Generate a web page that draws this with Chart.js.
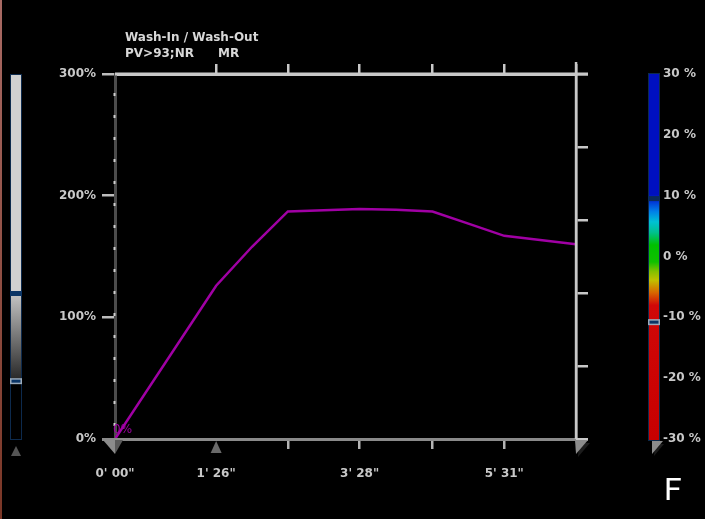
<!DOCTYPE html>
<html>
<head>
<meta charset="utf-8">
<script src="https://cdn.jsdelivr.net/npm/chart.js@4.4.1/dist/chart.umd.min.js"></script>
<style>
html, body { margin: 0; padding: 0; background: #000; }
canvas { display: block; }
</style>
</head>
<body>
<canvas id="washChart" width="705" height="519"></canvas>
<script>
// Wash-in / wash-out curve: time in seconds, enhancement in %
const timeSec = [0, 86, 116.5, 147, 177.5, 208, 239, 270, 300.5, 331, 361.5, 392];
const washValues = [0, 126, 158, 187, 188, 189, 188.5, 187, 177, 167, 163.5, 160];

const timeTicks = [0, 86, 147, 208, 270, 331, 392];
const timeLabels = ["0' 00\"", "1' 26\"", '', "3' 28\"", '', "5' 31\"", ''];
const markerTicks = [0, 86, 392]; // shown as triangles, not tick lines

const percentTicks = [0, 100, 200, 300];
const rightTicks = [0, 60, 120, 180, 240, 300];
const colorbarTicks = [-30, -20, -10, 0, 10, 20, 30];

const headerTitle = 'Wash-In / Wash-Out';
const headerSub = 'PV>93;NR';
const headerMode = 'MR';
const cornerLetter = 'F';

const LIGHT = '#c8c8c8';
const GRAY = '#8a8a8a';
const PURPLE = '#a000a4';

Chart.defaults.font.family = 'DejaVu Sans';

function tri(ctx, pts, fill) {
    ctx.beginPath();
    ctx.moveTo(pts[0][0], pts[0][1]);
    ctx.lineTo(pts[1][0], pts[1][1]);
    ctx.lineTo(pts[2][0], pts[2][1]);
    ctx.closePath();
    ctx.fillStyle = fill;
    ctx.fill();
}

const decor = {
    id: 'decor',
    afterDraw(chart) {
        const ctx = chart.ctx;
        const area = chart.chartArea;
        const x = chart.scales.x;
        const y = chart.scales.y;
        const cb = chart.scales.cb;
        ctx.save();

        // window edge
        const edge = ctx.createLinearGradient(0, 0, 0, 519);
        edge.addColorStop(0, '#a86a64');
        edge.addColorStop(1, '#7a3626');
        ctx.fillStyle = edge;
        ctx.fillRect(0, 0, 2, 519);

        // header
        ctx.fillStyle = '#d8d8d8';
        ctx.font = 'bold 12px "DejaVu Sans"';
        ctx.textBaseline = 'alphabetic';
        ctx.fillText(headerTitle, 125, 41);
        ctx.fillText(headerSub, 125, 57);
        ctx.fillText(headerMode, 218, 57);

        // axis line extensions
        ctx.fillStyle = GRAY;
        ctx.fillRect(102, area.bottom - 1, area.right + 12 - 102, 3);
        ctx.fillStyle = LIGHT;
        ctx.fillRect(area.left, area.top - 1.5, area.right + 12 - area.left, 3);
        ctx.fillRect(area.right - 1.2, area.top - 12, 2.5, area.bottom - area.top + 12);
        ctx.fillRect(area.right, area.bottom - 1, 12, 2);

        // dotted highlights on the left axis
        ctx.fillStyle = '#d0d0d0';
        for (let yy = area.top + 19; yy < area.bottom - 4; yy += 22) {
            ctx.fillRect(area.left - 1.5, yy, 2, 3);
        }

        // triangles under the time axis
        const x0 = x.getPixelForValue(markerTicks[0]);
        tri(ctx, [[x0 - 12, area.bottom + 1], [x0 + 1, area.bottom + 1], [x0, area.bottom + 15]], '#8c8c8c');
        tri(ctx, [[x0, area.bottom + 1], [x0 + 8, area.bottom + 1], [x0, area.bottom + 15]], '#5a5a5a');
        const x1 = x.getPixelForValue(markerTicks[1]);
        tri(ctx, [[x1 - 5.5, area.bottom + 14], [x1 + 5.5, area.bottom + 14], [x1, area.bottom + 2]], '#6a6a6a');
        const xe = x.getPixelForValue(markerTicks[2]);
        tri(ctx, [[xe + 3, area.bottom + 4], [xe + 14, area.bottom + 4], [xe + 2, area.bottom + 18]], '#1c1c1c');
        tri(ctx, [[xe - 1, area.bottom + 1], [xe + 12, area.bottom + 1], [xe, area.bottom + 15]], '#8c8c8c');

        // left grey window bar
        const bx = 10, bw = 12;
        const bTop = area.top, bBot = area.bottom + 1;
        const yHi = y.getPixelForValue(120), yLo = y.getPixelForValue(50);
        ctx.fillStyle = '#d0d0d0';
        ctx.fillRect(bx, bTop, bw, yHi - bTop);
        const g = ctx.createLinearGradient(0, yHi, 0, yLo);
        g.addColorStop(0, '#c6c6c6');
        g.addColorStop(1, '#2a2a2a');
        ctx.fillStyle = g;
        ctx.fillRect(bx, yHi, bw, yLo - yHi);
        ctx.fillStyle = '#000';
        ctx.fillRect(bx, yLo, bw, bBot - yLo);
        ctx.strokeStyle = '#0d2a4d';
        ctx.lineWidth = 1;
        ctx.strokeRect(bx + 0.5, bTop + 0.5, bw - 1, bBot - bTop - 1);
        ctx.fillStyle = '#0b3566';
        ctx.fillRect(bx, yHi - 2, bw, 5);
        ctx.fillStyle = '#9aaabb';
        ctx.fillRect(bx, yLo, bw, 6);
        ctx.fillStyle = '#0b3566';
        ctx.fillRect(bx + 1.5, yLo + 1.5, bw - 3, 3);
        tri(ctx, [[bx + 1, bBot + 16], [bx + bw - 1, bBot + 16], [bx + bw / 2, bBot + 6]], '#555');

        // colour bar
        const cx = cb.left, cw = 12;
        const cTop = cb.getPixelForValue(30) - 1, cBot = cb.getPixelForValue(-30) + 2;
        const stops = [
            [30, '#0010c0'], [10.2, '#0010c0'], [9.0, '#0038d8'], [7.4, '#0080e8'],
            [5.7, '#00c0d4'], [4.0, '#00c090'], [1.9, '#00c000'], [-0.9, '#10c000'],
            [-2.4, '#80c000'], [-3.9, '#c0c000'], [-5.9, '#d86800'], [-8.0, '#d00808'],
            [-30, '#c80000']
        ];
        const cg = ctx.createLinearGradient(0, cTop, 0, cBot);
        stops.forEach(s => {
            const p = (cb.getPixelForValue(s[0]) - cTop) / (cBot - cTop);
            cg.addColorStop(Math.min(1, Math.max(0, p)), s[1]);
        });
        ctx.fillStyle = cg;
        ctx.fillRect(cx, cTop, cw, cBot - cTop);
        ctx.strokeStyle = '#0d2a4d';
        ctx.strokeRect(cx + 0.5, cTop + 0.5, cw - 1, cBot - cTop - 1);
        const m1 = cb.getPixelForValue(9.6);
        ctx.fillStyle = '#0a2a5a';
        ctx.fillRect(cx, m1 - 2, cw, 5);
        const m2 = cb.getPixelForValue(-10.3);
        ctx.fillStyle = '#9aaabb';
        ctx.fillRect(cx, m2, cw, 6);
        ctx.fillStyle = '#0b3566';
        ctx.fillRect(cx + 1.5, m2 + 1.5, cw - 3, 3);
        tri(ctx, [[cx + 7, cBot + 3], [cx + 16, cBot + 3], [cx + 6, cBot + 15]], '#1c1c1c');
        tri(ctx, [[cx + 4, cBot], [cx + 15, cBot], [cx + 4, cBot + 13]], '#8c8c8c');

        // value tag at the first point
        const p0 = chart.getDatasetMeta(0).data[0];
        ctx.fillStyle = PURPLE;
        ctx.font = '12px "DejaVu Sans"';
        ctx.fillText(washValues[0] + '%', p0.x - 2, p0.y - 6);

        // corner letter
        ctx.fillStyle = '#ffffff';
        ctx.font = '32px Roboto';
        ctx.fillText(cornerLetter, 664, 500);

        ctx.restore();
    }
};

new Chart(document.getElementById('washChart'), {
    type: 'line',
    data: {
        datasets: [{
            data: timeSec.map((t, i) => ({ x: t, y: washValues[i] })),
            borderColor: PURPLE,
            borderWidth: 2.5,
            pointRadius: 0,
            tension: 0,
            xAxisID: 'x',
            yAxisID: 'y'
        }]
    },
    options: {
        responsive: false,
        animation: false,
        events: [],
        layout: { padding: 0 },
        plugins: { legend: { display: false }, tooltip: { enabled: false } },
        scales: {
            x: {
                type: 'linear', position: 'bottom', min: 0, max: 392,
                afterBuildTicks: s => { s.ticks = timeTicks.map(v => ({ value: v })); },
                afterFit: s => { s.height = 80; },
                ticks: {
                    autoSkip: false, maxRotation: 0, padding: 18,
                    color: LIGHT, font: { size: 12, weight: 'bold' },
                    callback: (v, i) => timeLabels[i]
                },
                grid: {
                    drawOnChartArea: false, tickLength: 10, lineWidth: 2.5,
                    tickColor: c => markerTicks.includes(c.tick.value) ? 'rgba(0,0,0,0)' : '#b4b4b4'
                },
                border: { color: GRAY, width: 3 }
            },
            x2: {
                type: 'linear', position: 'top', min: 0, max: 392,
                afterBuildTicks: s => { s.ticks = timeTicks.map(v => ({ value: v })); },
                afterFit: s => { s.height = 74; },
                ticks: { display: false },
                grid: {
                    drawOnChartArea: false, tickLength: 10, lineWidth: 2.5,
                    tickColor: c => c.tick.value === 0 ? 'rgba(0,0,0,0)' : LIGHT
                },
                border: { color: LIGHT, width: 3 }
            },
            y: {
                type: 'linear', position: 'left', min: 0, max: 300,
                afterBuildTicks: s => { s.ticks = percentTicks.map(v => ({ value: v })); },
                afterFit: s => { s.width = 115; },
                ticks: {
                    padding: 6, color: LIGHT, font: { size: 12, weight: 'bold' },
                    callback: v => v + '%'
                },
                grid: { drawOnChartArea: false, tickLength: 13, lineWidth: 2.5, tickColor: '#bdbdbd' },
                border: { color: '#4c4c4c', width: 3 }
            },
            y2: {
                type: 'linear', position: 'right', min: 0, max: 300,
                afterBuildTicks: s => { s.ticks = rightTicks.map(v => ({ value: v })); },
                afterFit: s => { s.width = 72; },
                ticks: { display: false },
                grid: { drawOnChartArea: false, tickLength: 12, lineWidth: 2.5, tickColor: LIGHT },
                border: { color: LIGHT, width: 2.5 }
            },
            cb: {
                type: 'linear', position: 'right', min: -30, max: 30,
                afterBuildTicks: s => { s.ticks = colorbarTicks.map(v => ({ value: v })); },
                afterFit: s => { s.width = 57; },
                ticks: {
                    padding: 15, color: LIGHT, font: { size: 12, weight: 'bold' },
                    callback: v => v + ' %'
                },
                grid: { display: false, drawTicks: false },
                border: { display: false }
            }
        }
    },
    plugins: [decor]
});
</script>
</body>
</html>
